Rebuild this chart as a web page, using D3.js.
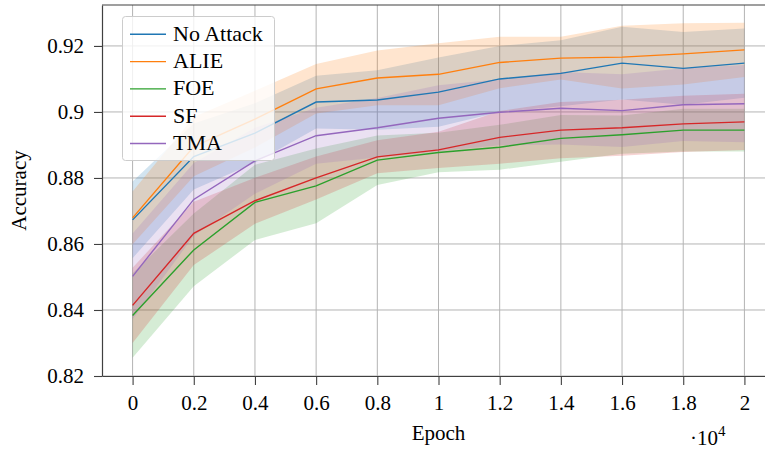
<!DOCTYPE html>
<html><head><meta charset="utf-8">
<script src="https://cdn.jsdelivr.net/npm/d3@7"></script>
<style>
body{margin:0;background:#fff}
svg{display:block}
text{font-family:"Liberation Serif","Times New Roman",serif;fill:#000}
</style>
</head><body>
<svg id="c" width="765" height="449"></svg>
<script>
// ---- data ----
const epochs = [0, 2000, 4000, 6000, 8000, 10000, 12000, 14000, 16000, 18000, 20000];
const xTickValues = [0, 2000, 4000, 6000, 8000, 10000, 12000, 14000, 16000, 18000, 20000];
const xTickLabels = ["0", "0.2", "0.4", "0.6", "0.8", "1", "1.2", "1.4", "1.6", "1.8", "2"];
const yTickValues = [0.82, 0.84, 0.86, 0.88, 0.90, 0.92];
const yTickLabels = ["0.82", "0.84", "0.86", "0.88", "0.9", "0.92"];
const seriesNames = ["No Attack", "ALIE", "FOE", "SF", "TMA"];
const seriesColors = ["#1f77b4", "#ff7f0e", "#2ca02c", "#d62728", "#9467bd"];

const noAttackMean = [0.8673, 0.8865, 0.8936, 0.9030, 0.9036, 0.9060, 0.9100, 0.9117, 0.9148, 0.9132, 0.9148];
const noAttackStd  = [0.0116, 0.0100, 0.0090, 0.0080, 0.0090, 0.0105, 0.0100, 0.0100, 0.0110, 0.0110, 0.0105];
const alieMean     = [0.8679, 0.8895, 0.8978, 0.9070, 0.9103, 0.9114, 0.9150, 0.9163, 0.9166, 0.9176, 0.9188];
const alieStd      = [0.0080, 0.0090, 0.0086, 0.0075, 0.0083, 0.0094, 0.0078, 0.0065, 0.0095, 0.0093, 0.0082];
const foeMean      = [0.8383, 0.8582, 0.8726, 0.8776, 0.8854, 0.8877, 0.8893, 0.8920, 0.8931, 0.8945, 0.8945];
const foeStd       = [0.0128, 0.0110, 0.0114, 0.0113, 0.0075, 0.0060, 0.0068, 0.0071, 0.0058, 0.0065, 0.0065];
const sfMean       = [0.8414, 0.8632, 0.8731, 0.8800, 0.8864, 0.8885, 0.8923, 0.8945, 0.8952, 0.8964, 0.8970];
const sfStd        = [0.0114, 0.0096, 0.0070, 0.0065, 0.0050, 0.0055, 0.0080, 0.0085, 0.0085, 0.0085, 0.0085];
const tmaMean      = [0.8502, 0.8735, 0.8852, 0.8928, 0.8952, 0.8981, 0.8999, 0.9011, 0.9004, 0.9022, 0.9025];
const tmaStd       = [0.0130, 0.0110, 0.0100, 0.0085, 0.0090, 0.0100, 0.0100, 0.0110, 0.0110, 0.0110, 0.0117];

const seriesMeans = [noAttackMean, alieMean, foeMean, sfMean, tmaMean];
const seriesStds  = [noAttackStd, alieStd, foeStd, sfStd, tmaStd];

// ---- layout ----
const W = 765, H = 449;
const plot = {left: 102, top: 5, bottom: 376, right: 775};
const svg = d3.select("#c");

const x = d3.scaleLinear().domain([-1000, 21000]).range([plot.left, plot.right]);
const y = d3.scaleLinear().domain([0.82, 0.9324]).range([plot.bottom, plot.top]);

svg.append("defs").append("clipPath").attr("id", "clip")
  .append("rect").attr("x", plot.left).attr("y", plot.top)
  .attr("width", plot.right - plot.left).attr("height", plot.bottom - plot.top);

// grid
const grid = svg.append("g").attr("stroke", "#b4b4b4").attr("stroke-width", 1);
grid.selectAll("line.v").data(xTickValues).join("line")
  .attr("x1", d => x(d)).attr("x2", d => x(d))
  .attr("y1", plot.top).attr("y2", plot.bottom);
grid.selectAll("line.h").data(yTickValues).join("line")
  .attr("x1", plot.left).attr("x2", plot.right)
  .attr("y1", d => y(d)).attr("y2", d => y(d));

const data = seriesNames.map((name, i) => ({
  name, color: seriesColors[i],
  pts: epochs.map((e, j) => ({e, m: seriesMeans[i][j], s: seriesStds[i][j]}))
}));

const g = svg.append("g").attr("clip-path", "url(#clip)");
const area = d3.area().x(d => x(d.e)).y0(d => y(d.m - d.s)).y1(d => y(d.m + d.s));
const line = d3.line().x(d => x(d.e)).y(d => y(d.m));

data.forEach(s => {
  g.append("path").attr("d", area(s.pts)).attr("fill", s.color).attr("fill-opacity", 0.2).attr("stroke", "none");
});
data.forEach(s => {
  g.append("path").attr("d", line(s.pts)).attr("fill", "none").attr("stroke", s.color).attr("stroke-width", 1.4);
});

// axes
const axisColor = "#404040";
const xAxis = svg.append("g").attr("transform", `translate(0,${plot.bottom})`)
  .call(d3.axisBottom(x).tickValues(xTickValues).tickFormat((d, i) => xTickLabels[i]).tickSize(9).tickPadding(10).tickSizeOuter(0));
const yAxis = svg.append("g").attr("transform", `translate(${plot.left},0)`)
  .call(d3.axisLeft(y).tickValues(yTickValues).tickFormat((d, i) => yTickLabels[i]).tickSize(8).tickPadding(10).tickSizeOuter(0));
[xAxis, yAxis].forEach(a => {
  a.select(".domain").attr("stroke", axisColor).attr("stroke-width", 1.2);
  a.selectAll(".tick line").attr("stroke", axisColor).attr("stroke-width", 1.1);
  a.selectAll(".tick text").attr("font-family", "'Liberation Serif', serif").attr("font-size", 21).attr("fill", "#000");
});
// top spine
svg.append("line").attr("x1", plot.left).attr("x2", plot.right).attr("y1", plot.top).attr("y2", plot.top)
  .attr("stroke", axisColor).attr("stroke-width", 1.2);

// axis labels
svg.append("text").attr("x", x(10000)).attr("y", 440).attr("text-anchor", "middle").attr("font-size", 21).text("Epoch");
svg.append("text").attr("transform", `translate(26,${(plot.top + plot.bottom) / 2}) rotate(-90)`)
  .attr("text-anchor", "middle").attr("font-size", 21).text("Accuracy");
const mult = svg.append("text").attr("x", 690).attr("y", 445).attr("font-size", 21).text("·10");
mult.append("tspan").attr("dy", -9).attr("font-size", 15).text("4");

// legend
const leg = svg.append("g");
leg.append("rect").attr("x", 122.5).attr("y", 16.5).attr("width", 152).attr("height", 144).attr("rx", 3)
  .attr("fill", "#fff").attr("fill-opacity", 0.8).attr("stroke", "#cccccc").attr("stroke-width", 1);
data.forEach((s, i) => {
  const ly = 34.3 + i * 27.3;
  leg.append("line").attr("x1", 130).attr("x2", 166).attr("y1", ly).attr("y2", ly)
    .attr("stroke", s.color).attr("stroke-width", 1.4);
  leg.append("text").attr("x", 173).attr("y", ly + 6.5).attr("font-size", 22).text(s.name);
});
</script>
</body></html>
